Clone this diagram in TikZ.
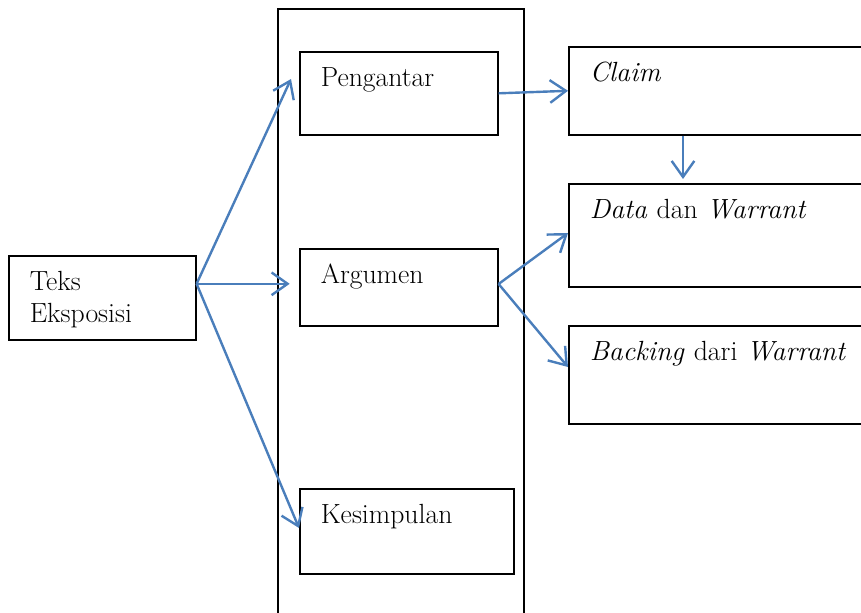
\documentclass[tikz,border=0pt]{standalone}
\usetikzlibrary{arrows.meta,positioning}
\definecolor{panahbiru}{RGB}{74,126,187}
\tikzset{
  kotak/.style={draw, line width=1.2pt, anchor=north west, align=left,
    inner xsep=15.75pt, inner ysep=0pt, text height=26.25pt,
    font=\fontsize{20.8}{24}\selectfont},
  panah/.style={->, draw=panahbiru, line width=1.8pt},
  >={Straight Barb[length=12pt,width=17pt]}
}
\begin{document}
\begin{tikzpicture}[x=0.75pt,y=-0.75pt]
      \clip (0,0) rectangle (861,612);
      \node[draw, line width=1.2pt, anchor=north west, minimum width=184.5pt, minimum height=480pt, inner sep=0pt] at (277,8) (wadah) {};
      \node[kotak, text width=108.75pt, text depth=36.75pt] at (8,255) (teks) {Teks\\Eksposisi};
      \node[kotak, text width=117pt, text depth=36pt] at (299,51) (pengantar) {Pengantar};
      \node[kotak, text width=117pt, text depth=31.5pt] at (299,248) (argumen) {Argumen};
      \node[kotak, text width=129pt, text depth=37.5pt] at (299,488) (kesimpulan) {Kesimpulan};
      \node[kotak, text width=201pt, text depth=39.75pt] at (568,46) (claim) {\textit{Claim}};
      \node[kotak, text width=201pt, text depth=51pt] at (568,183) (data) {\textit{Data} dan \textit{Warrant}};
      \node[kotak, text width=201pt, text depth=47.25pt] at (568,325) (backing) {\textit{Backing} dari \textit{Warrant}};
      \coordinate (t) at ([yshift=10.5pt]teks.east);
      \coordinate (a) at ([yshift=2.5pt]argumen.east);
      \draw[panah] (t) -- ([xshift=-6pt,yshift=-21pt]pengantar.north west);
      \draw[panah, shorten >=7pt] (t) -- (t -| argumen.west);
      \draw[panah] (t) -- ([yshift=-30pt]kesimpulan.north west);
      \draw[panah] (pengantar.east) -- (claim.west);
      \draw[panah, shorten >=3pt] ([xshift=86.25pt]claim.south west) -- ([xshift=86.25pt]data.north west);
      \draw[panah] (a) -- ([yshift=-37.5pt]data.north west);
      \draw[panah] (a) -- ([yshift=-31.5pt]backing.north west);
\end{tikzpicture}
\end{document}
